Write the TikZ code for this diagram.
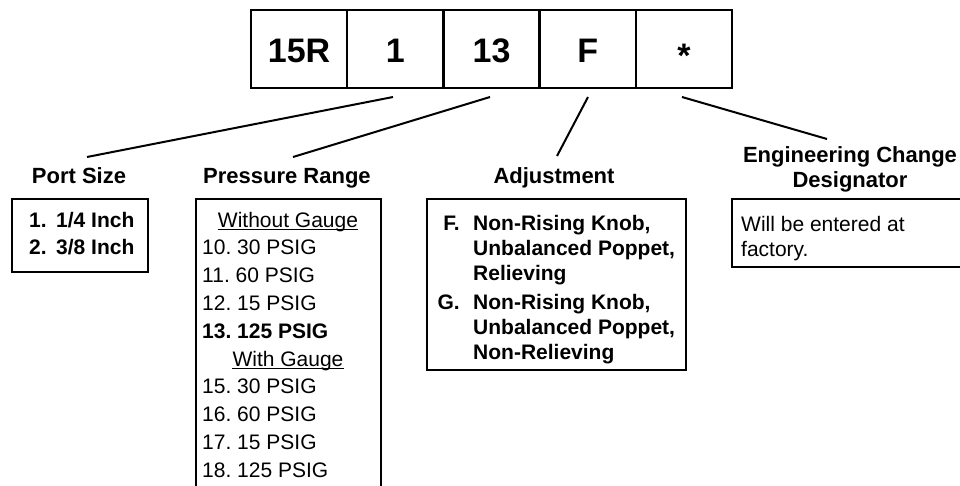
\documentclass[tikz,border=0pt]{standalone}
\usepackage{fontspec}
\setmainfont{Liberation Sans}
\begin{document}
\frenchspacing
\begin{tikzpicture}[x=1pt,y=-1pt,
  cell/.style={draw, line width=2.5pt, minimum width=96.2pt, minimum height=78pt,
    inner sep=0pt, text height=26pt, text depth=0pt,
    font=\fontsize{34}{40}\selectfont\bfseries},
  conn/.style={line width=2pt},
  lbl/.style={font=\fontsize{22}{26}\selectfont\bfseries, inner sep=0pt, anchor=base},
  box/.style={draw, line width=2pt},
  txt/.style={font=\fontsize{21}{25}\selectfont, inner sep=0pt, anchor=base west},
  btxt/.style={font=\fontsize{21}{25}\selectfont\bfseries, inner sep=0pt, anchor=base west},
  bnum/.style={font=\fontsize{21}{25}\selectfont\bfseries, inner sep=0pt, anchor=base east},
  ctxt/.style={font=\fontsize{21}{25}\selectfont, inner sep=0pt, anchor=base},
  uline/.style={line width=1.1pt}
]
\useasboundingbox (0,0) rectangle (960,485);
\clip (0,0) rectangle (960,485);

% code cells
\node[cell] (c1) at (299.1,49) {15R};
\node[cell] (c2) at (395.3,49) {1};
\node[cell] (c3) at (491.5,49) {13};
\node[cell] (c4) at (587.7,49) {F};
\node[cell] (c5) at (683.9,49) {\raisebox{-5pt}{*}};

% labels
\node[lbl] (portlbl) at (79,183) {Port Size};
\node[lbl] (preslbl) at (287,183) {Pressure Range};
\node[lbl] (adjlbl) at (554,183) {Adjustment};
\node[lbl] (englbl1) at (850,162) {Engineering Change};
\node[lbl] (englbl2) at (850,187) {Designator};

% connector ends
\coordinate (s2) at (393,97);
\coordinate (s3) at (490,97);
\coordinate (s4) at (588,97);
\coordinate (s5) at (682,97);
\coordinate (e2) at (87,157);
\coordinate (e3) at (293,157);
\coordinate (e4) at (557,156);
\coordinate (e5) at (827,139);
\draw[conn] (s2) -- (e2);
\draw[conn] (s3) -- (e3);
\draw[conn] (s4) -- (e4);
\draw[conn] (s5) -- (e5);

% port size box
\draw[box] (12,199) rectangle (148,272);
\node[btxt] (pn1) at (29,227) {1.};
\node[btxt] (pt1) at (56,227) {1/4 Inch};
\node[btxt] (pn2) at (29,254) {2.};
\node[btxt] (pt2) at (56,254) {3/8 Inch};

% pressure range box
\draw[box] (196,199) rectangle (381,500);
\node[ctxt] (wog) at (288,227) {Without Gauge};
\draw[uline] ([yshift=-2.5pt]wog.base west) -- ([yshift=-2.5pt]wog.base east);
\node[txt] (pr10) at (202,254.8) {10. 30 PSIG};
\node[txt] (pr11) at (202,282.6) {11. 60 PSIG};
\node[txt] (pr12) at (202,310.4) {12. 15 PSIG};
\node[btxt] (pr13) at (202,338.2) {13. 125 PSIG};
\node[ctxt] (wg) at (288,366) {With Gauge};
\draw[uline] ([yshift=-2.5pt]wg.base west) -- ([yshift=-2.5pt]wg.base east);
\node[txt] (pr15) at (202,393.8) {15. 30 PSIG};
\node[txt] (pr16) at (202,421.6) {16. 60 PSIG};
\node[txt] (pr17) at (202,449.4) {17. 15 PSIG};
\node[txt] (pr18) at (202,477.2) {18. 125 PSIG};

% adjustment box
\draw[box] (427,199) rectangle (686,370);
\node[bnum] (afn) at (460,230) {F.};
\node[btxt] (af1) at (473,230) {Non-Rising Knob,};
\node[btxt] (af2) at (473,255) {Unbalanced Poppet,};
\node[btxt] (af3) at (473,280) {Relieving};
\node[bnum] (agn) at (460,309) {G.};
\node[btxt] (ag1) at (473,309) {Non-Rising Knob,};
\node[btxt] (ag2) at (473,334) {Unbalanced Poppet,};
\node[btxt] (ag3) at (473,359) {Non-Relieving};

% engineering change box
\draw[box] (732,199) rectangle (975,267);
\node[txt] (ec1) at (741,231) {Will be entered at};
\node[txt] (ec2) at (741,256) {factory.};
\end{tikzpicture}
\end{document}
